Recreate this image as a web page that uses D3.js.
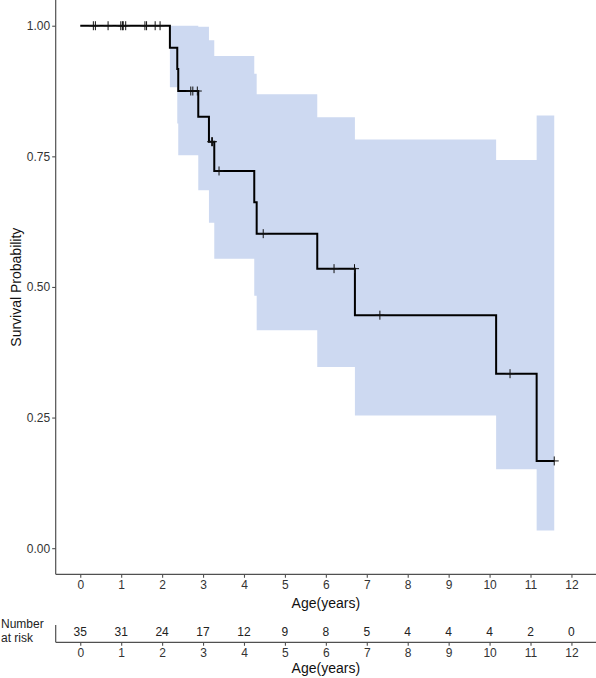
<!DOCTYPE html>
<html>
<head>
<meta charset="utf-8">
<script src="https://cdn.jsdelivr.net/npm/d3@7"></script>
<style>
  html, body { margin: 0; padding: 0; background: #fff; }
  svg text { font-family: "Liberation Sans", Arial, Helvetica, sans-serif; }
</style>
</head>
<body>
<svg id="chart" width="596" height="678"></svg>
<script>
// ---- data ----
const yearTicks = [0,1,2,3,4,5,6,7,8,9,10,11,12];
const numberAtRisk = [35,31,24,17,12,9,8,5,4,4,4,2,0];
const stepTimes = [0, 2.19, 2.37, 2.394, 2.883, 3.144, 3.274, 4.251, 4.31, 5.79, 6.71, 10.16, 11.15];
const survival  = [1, 0.958, 0.917, 0.875, 0.826, 0.778, 0.722, 0.662, 0.602, 0.535, 0.446, 0.334, 0.167];
const upperCI   = [1, 1, 1, 1, 0.998, 0.972, 0.942, 0.908, 0.869, 0.825, 0.782, 0.743, 0.828];
const lowerCI   = [1, 0.882, 0.813, 0.752, 0.685, 0.623, 0.554, 0.483, 0.417, 0.347, 0.254, 0.151, 0.034];
const lastTime = 11.58;
const censorTimes = [0.32, 0.37, 0.68, 0.99, 1.03, 1.05, 1.11, 1.58, 1.62, 1.83, 1.95,
                     2.70, 2.75, 2.86, 3.21, 3.23, 3.39, 4.47, 6.20, 6.70, 7.32, 10.50, 11.58];
const yTicks = [0, 0.25, 0.5, 0.75, 1];

// ---- layout ----
const svg = d3.select("#chart");
const W = 596;
const x = d3.scaleLinear().domain([-0.6, 12.6]).range([55.7, 596]);
const y = d3.scaleLinear().domain([-0.05, 1.05]).range([574.3, -0.4]);
const font = "Liberation Sans, Arial, sans-serif";
const axisCol = "#505050";

// confidence band
const bandData = stepTimes.map((t, i) => ({t, lo: lowerCI[i], hi: upperCI[i]}));
bandData.push({t: lastTime, lo: lowerCI[lowerCI.length-1], hi: upperCI[upperCI.length-1]});
svg.append("path")
  .datum(bandData.filter(d => d.t >= stepTimes[1]))
  .attr("d", d3.area().curve(d3.curveStepAfter)
     .x(d => x(d.t)).y0(d => y(d.lo)).y1(d => y(d.hi)))
  .attr("fill", "#cdd9f1");

// survival curve
const curveData = stepTimes.map((t, i) => ({t, s: survival[i]}));
curveData.push({t: lastTime, s: survival[survival.length-1]});
svg.append("path")
  .datum(curveData)
  .attr("d", d3.line().curve(d3.curveStepAfter).x(d => x(d.t)).y(d => y(d.s)))
  .attr("fill", "none").attr("stroke", "#000").attr("stroke-width", 2);

// censor marks
const survAt = t => survival[d3.bisectRight(stepTimes, t) - 1];
const cg = svg.append("g").attr("stroke", "#111").attr("stroke-width", 1);
censorTimes.forEach(t => {
  const cx = x(t), cy = y(survAt(t));
  cg.append("line").attr("x1", cx).attr("x2", cx).attr("y1", cy - 4.5).attr("y2", cy + 4.5);
  cg.append("line").attr("x1", cx - 4.5).attr("x2", cx + 4.5).attr("y1", cy).attr("y2", cy);
});

// y axis
const yAxis = svg.append("g").attr("transform", `translate(${x.range()[0]},0)`)
  .call(d3.axisLeft(y).tickValues(yTicks).tickFormat(d3.format(".2f")).tickSize(3.5).tickPadding(2));
yAxis.select(".domain").attr("d", `M0,0V${y.range()[0]}`).attr("stroke", axisCol).attr("stroke-width", 1.2);
yAxis.selectAll(".tick line").attr("stroke", axisCol).attr("stroke-width", 1.1);
yAxis.selectAll("text").attr("font-size", 12).attr("fill", "#333").attr("font-family", font);

// x axis (main)
const xAxis = svg.append("g").attr("transform", `translate(0,${y.range()[0]})`)
  .call(d3.axisBottom(x).tickValues(yearTicks).tickFormat(d3.format("d")).tickSize(3.5).tickPadding(2.5));
xAxis.select(".domain").attr("d", `M${x.range()[0]},0H${W}`).attr("stroke", axisCol).attr("stroke-width", 1.2);
xAxis.selectAll(".tick line").attr("stroke", axisCol).attr("stroke-width", 1.1);
xAxis.selectAll("text").attr("font-size", 12).attr("fill", "#333").attr("font-family", font);

// axis titles
svg.append("text").attr("x", (x.range()[0] + W) / 2).attr("y", 608)
  .attr("text-anchor", "middle").attr("font-size", 14).attr("fill", "#111").text("Age(years)");
svg.append("text").attr("transform", `translate(21,${y.range()[0] / 2}) rotate(-90)`)
  .attr("text-anchor", "middle").attr("font-size", 14).attr("fill", "#111").text("Survival Probability");

// ---- number at risk table ----
const rtTop = 625, rtBase = 642.3;
svg.append("line").attr("x1", x.range()[0]).attr("x2", x.range()[0]).attr("y1", rtTop).attr("y2", rtBase)
  .attr("stroke", axisCol).attr("stroke-width", 1.2);
const rAxis = svg.append("g").attr("transform", `translate(0,${rtBase})`)
  .call(d3.axisBottom(x).tickValues(yearTicks).tickFormat(d3.format("d")).tickSize(3.5).tickPadding(2.5));
rAxis.select(".domain").attr("d", `M${x.range()[0]},0H${W}`).attr("stroke", axisCol).attr("stroke-width", 1.2);
rAxis.selectAll(".tick line").attr("stroke", axisCol).attr("stroke-width", 1.1);
rAxis.selectAll("text").attr("font-size", 12).attr("fill", "#333").attr("font-family", font);

svg.append("g").selectAll("text").data(yearTicks).join("text")
  .attr("x", d => x(d)).attr("y", 636)
  .attr("text-anchor", "middle").attr("font-size", 12).attr("fill", "#222")
  .text((d, i) => numberAtRisk[i]);

svg.append("text").attr("x", 1).attr("y", 627.5).attr("font-size", 12).attr("fill", "#222").text("Number");
svg.append("text").attr("x", 1).attr("y", 641.5).attr("font-size", 12).attr("fill", "#222").text("at risk");

svg.append("text").attr("x", (x.range()[0] + W) / 2).attr("y", 673)
  .attr("text-anchor", "middle").attr("font-size", 14).attr("fill", "#111").text("Age(years)");
</script>
</body>
</html>
